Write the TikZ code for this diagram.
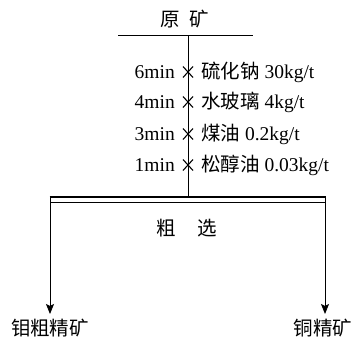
\documentclass[tikz,border=0pt]{standalone}
\usepackage{fontspec}
\setmainfont{Liberation Serif}
\newfontfamily\cjk{Noto Sans CJK SC}
\usetikzlibrary{arrows.meta,calc}
\begin{document}
\begin{tikzpicture}[x=1pt,y=-1pt,
  txt/.style={inner sep=0pt,font=\fontsize{19.5}{21}\selectfont},
  ln/.style={line width=0.9pt},
  arr/.style={ln,-{Stealth[length=10pt,width=8pt,inset=2pt]}},
  crs/.style={line width=1.1pt}]
\useasboundingbox (0,0) rectangle (356,343);
% feed
\node[txt] (feed) at (185,19) {\cjk 原\hspace{0.5em}矿};
\coordinate (tl) at (118,35);
\coordinate (tr) at (253,35);
\coordinate (top) at (188,35);
\draw[ln] (tl) -- (tr);
\coordinate (bot) at (188,197);
\draw[ln] (top) -- (bot);
% reagents
\foreach \y/\t/\r [count=\i] in {72/6min/{{\cjk 硫化钠} 30kg/t},102/4min/{{\cjk 水玻璃} 4kg/t},134/3min/{{\cjk 煤油} 0.2kg/t},165/1min/{{\cjk 松醇油} 0.03kg/t}}{
  \coordinate (c\i) at (188,\y);
  \draw[crs] ($(c\i)+(-5,-5.5)$) -- ($(c\i)+(5,5.5)$);
  \draw[crs] ($(c\i)+(5,-5.5)$) -- ($(c\i)+(-5,5.5)$);
  \node[txt,anchor=east] (t\i) at (175,\y) {\t};
  \node[txt,anchor=west] (r\i) at (201,\y) {\r};
}
% rougher
\coordinate (L) at (50,197);
\coordinate (R) at (325,197);
\draw[line width=2.6pt] ($(L)+(-0.5,0)$) -- ($(R)+(0.5,0)$);
\draw[line width=0.8pt] (50,202.5) -- (325,202.5);
\node[txt] (rough) at (187,228) {\cjk 粗\hspace{1.1em}选};
\node[txt] (mo) at (50,328) {\cjk 钼粗精矿};
\node[txt] (cu) at (323,328) {\cjk 铜精矿};
\draw[arr] (L) -- (50,314);
\draw[arr] (R) -- (325,314);
\end{tikzpicture}
\end{document}
